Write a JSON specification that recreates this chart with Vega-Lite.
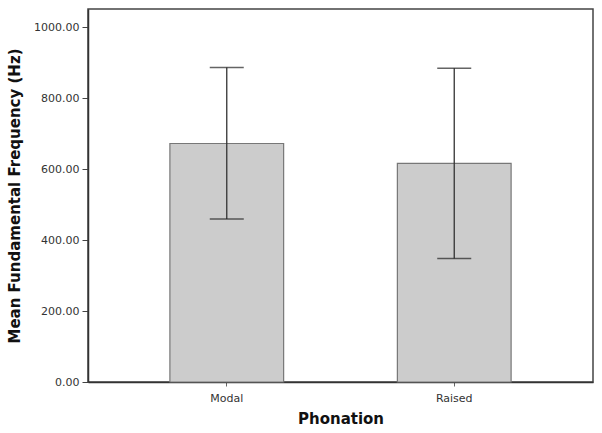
{
  "$schema": "https://vega.github.io/schema/vega-lite/v6.json",
  "autosize": "none",
  "width": 505,
  "height": 373,
  "padding": {"left": 88, "top": 9, "right": 9, "bottom": 51},
  "background": "white",
  "config": {
    "view": {"stroke": "#444444", "strokeWidth": 1.5},
    "font": "DejaVu Sans",
    "axis": {"grid": false, "labelFont": "DejaVu Sans", "titleFont": "DejaVu Sans"}
  },
  "data": {
    "values": [
      {"Phonation": "Modal", "mean": 672, "lo": 459, "hi": 886},
      {"Phonation": "Raised", "mean": 616, "lo": 348, "hi": 884}
    ]
  },
  "encoding": {
    "x": {
      "field": "Phonation",
      "type": "nominal",
      "scale": {"paddingInner": 0.5, "paddingOuter": 0.36},
      "axis": {
        "title": "Phonation",
        "labelAngle": 0,
        "labelFontSize": 11,
        "labelColor": "#333333",
        "labelPadding": 6,
        "tickSize": 4,
        "tickColor": "#666666",
        "domainColor": "#333333",
        "domainWidth": 1.5,
        "titleFontSize": 15,
        "titleFontWeight": "bold",
        "titleColor": "#111111",
        "titlePadding": 8
      }
    }
  },
  "layer": [
    {
      "mark": {"type": "bar", "fill": "#cccccc", "stroke": "#777777", "strokeWidth": 1.2},
      "encoding": {
        "y": {
          "field": "mean",
          "type": "quantitative",
          "scale": {"domain": [0, 1051], "nice": false},
          "axis": {
            "title": "Mean Fundamental Frequency (Hz)",
            "values": [0, 200, 400, 600, 800, 1000],
            "format": ".2f",
            "labelFontSize": 11,
            "labelColor": "#333333",
            "labelPadding": 3,
            "tickSize": 6,
            "tickColor": "#444444",
            "domainColor": "#333333",
            "domainWidth": 1.5,
            "titleFontSize": 15,
            "titleFontWeight": "bold",
            "titleColor": "#111111",
            "titleX": -66
          }
        }
      }
    },
    {
      "mark": {"type": "rule", "color": "#333333", "strokeWidth": 1.3},
      "encoding": {
        "y": {"field": "lo", "type": "quantitative"},
        "y2": {"field": "hi"}
      }
    },
    {
      "mark": {"type": "tick", "color": "#222222", "thickness": 1.5, "size": 34, "orient": "horizontal"},
      "encoding": {
        "y": {"field": "hi", "type": "quantitative"}
      }
    },
    {
      "mark": {"type": "tick", "color": "#222222", "thickness": 1.5, "size": 34, "orient": "horizontal"},
      "encoding": {
        "y": {"field": "lo", "type": "quantitative"}
      }
    }
  ]
}
